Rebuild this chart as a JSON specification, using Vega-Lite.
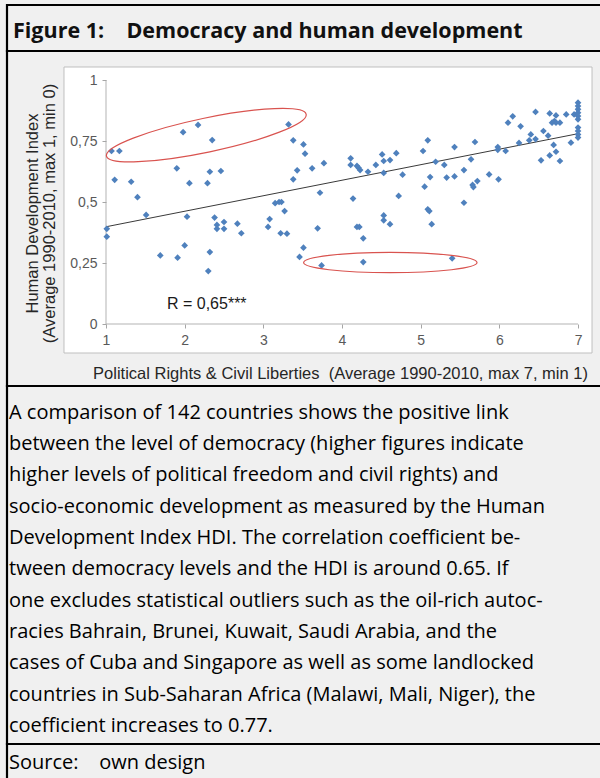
{
  "$schema": "https://vega.github.io/schema/vega-lite/v6.json",
  "background": "#f0f0f0",
  "padding": {"left": 5, "top": 3, "right": 0, "bottom": 0},
  "spacing": 0,
  "bounds": "flush",
  "config": {
    "view": {"stroke": "#000000", "strokeWidth": 2.2, "fill": null},
    "font": "Open Sans"
  },
  "datasets": {
    "countries": [{"pr":1.07,"hdi":0.709},{"pr":1.17,"hdi":0.709},{"pr":1.01,"hdi":0.39},{"pr":1.01,"hdi":0.358},{"pr":1.11,"hdi":0.591},{"pr":1.32,"hdi":0.583},{"pr":1.40,"hdi":0.52},{"pr":1.51,"hdi":0.447},{"pr":1.69,"hdi":0.281},{"pr":1.90,"hdi":0.638},{"pr":1.91,"hdi":0.272},{"pr":1.98,"hdi":0.786},{"pr":2.00,"hdi":0.322},{"pr":2.03,"hdi":0.44},{"pr":2.06,"hdi":0.577},{"pr":2.17,"hdi":0.816},{"pr":2.29,"hdi":0.577},{"pr":2.32,"hdi":0.624},{"pr":2.35,"hdi":0.754},{"pr":2.32,"hdi":0.295},{"pr":2.30,"hdi":0.217},{"pr":2.38,"hdi":0.436},{"pr":2.41,"hdi":0.406},{"pr":2.41,"hdi":0.39},{"pr":2.46,"hdi":0.627},{"pr":2.50,"hdi":0.418},{"pr":2.50,"hdi":0.39},{"pr":2.67,"hdi":0.411},{"pr":2.72,"hdi":0.372},{"pr":3.32,"hdi":0.818},{"pr":3.38,"hdi":0.753},{"pr":3.51,"hdi":0.736},{"pr":3.53,"hdi":0.698},{"pr":3.43,"hdi":0.63},{"pr":3.38,"hdi":0.593},{"pr":3.62,"hdi":0.638},{"pr":3.77,"hdi":0.659},{"pr":3.72,"hdi":0.538},{"pr":3.15,"hdi":0.495},{"pr":3.2,"hdi":0.5},{"pr":3.23,"hdi":0.5},{"pr":3.27,"hdi":0.463},{"pr":3.08,"hdi":0.43},{"pr":3.06,"hdi":0.398},{"pr":3.22,"hdi":0.372},{"pr":3.3,"hdi":0.37},{"pr":3.69,"hdi":0.392},{"pr":3.51,"hdi":0.313},{"pr":3.46,"hdi":0.275},{"pr":3.74,"hdi":0.24},
      {"pr":4.11,"hdi":0.679},{"pr":4.11,"hdi":0.652},{"pr":4.19,"hdi":0.648},{"pr":4.21,"hdi":0.64},{"pr":4.23,"hdi":0.631},{"pr":4.33,"hdi":0.624},{"pr":4.43,"hdi":0.652},{"pr":4.51,"hdi":0.695},{"pr":4.53,"hdi":0.668},{"pr":4.61,"hdi":0.672},{"pr":4.69,"hdi":0.7},{"pr":4.53,"hdi":0.619},{"pr":4.77,"hdi":0.612},{"pr":4.72,"hdi":0.525},{"pr":4.14,"hdi":0.514},{"pr":4.19,"hdi":0.398},{"pr":4.22,"hdi":0.398},{"pr":4.27,"hdi":0.351},{"pr":4.27,"hdi":0.254},{"pr":4.53,"hdi":0.445},{"pr":4.53,"hdi":0.425},{"pr":4.61,"hdi":0.409},{"pr":5.03,"hdi":0.709},{"pr":5.09,"hdi":0.753},{"pr":5.19,"hdi":0.665},{"pr":5.3,"hdi":0.652},{"pr":5.43,"hdi":0.725},{"pr":5.12,"hdi":0.602},{"pr":5.33,"hdi":0.6},{"pr":5.43,"hdi":0.605},{"pr":5.05,"hdi":0.563},{"pr":5.09,"hdi":0.47},{"pr":5.11,"hdi":0.463},{"pr":5.14,"hdi":0.409},{"pr":5.4,"hdi":0.269},{"pr":5.55,"hdi":0.631},{"pr":5.55,"hdi":0.497},
      {"pr":5.64,"hdi":0.675},{"pr":5.69,"hdi":0.746},{"pr":5.66,"hdi":0.57},{"pr":5.67,"hdi":0.561},{"pr":5.72,"hdi":0.586},{"pr":5.87,"hdi":0.613},{"pr":5.99,"hdi":0.593},{"pr":5.98,"hdi":0.725},{"pr":5.98,"hdi":0.714},{"pr":6.08,"hdi":0.709},{"pr":6.11,"hdi":0.825},{"pr":6.17,"hdi":0.851},{"pr":6.27,"hdi":0.81},{"pr":6.25,"hdi":0.742},{"pr":6.38,"hdi":0.753},{"pr":6.4,"hdi":0.777},{"pr":6.46,"hdi":0.758},{"pr":6.46,"hdi":0.869},{"pr":6.56,"hdi":0.791},{"pr":6.62,"hdi":0.772},{"pr":6.53,"hdi":0.671},{"pr":6.64,"hdi":0.863},{"pr":6.64,"hdi":0.691},{"pr":6.69,"hdi":0.734},{"pr":6.72,"hdi":0.706},{"pr":6.77,"hdi":0.668},{"pr":6.72,"hdi":0.855},{"pr":6.67,"hdi":0.825},{"pr":6.7,"hdi":0.832},{"pr":6.72,"hdi":0.825},{"pr":6.77,"hdi":0.825},{"pr":6.85,"hdi":0.859},{"pr":6.91,"hdi":0.743},{"pr":6.95,"hdi":0.859},{"pr":7,"hdi":0.907},{"pr":7,"hdi":0.893},{"pr":7,"hdi":0.88},{"pr":7,"hdi":0.866},{"pr":7,"hdi":0.852},{"pr":7,"hdi":0.839},{"pr":7,"hdi":0.805},{"pr":7,"hdi":0.791},{"pr":7,"hdi":0.777},{"pr":7,"hdi":0.764}],
    "trend": [{"pr": 1, "hdi": 0.3985}, {"pr": 7, "hdi": 0.78}],
    "paragraph": [
      {"line": 0, "text": "A comparison of 142 countries shows the positive link"},
      {"line": 1, "text": "between the level of democracy (higher figures indicate"},
      {"line": 2, "text": "higher levels of political freedom and civil rights) and"},
      {"line": 3, "text": "socio-economic development as measured by the Human"},
      {"line": 4, "text": "Development Index HDI. The correlation coefficient be-"},
      {"line": 5, "text": "tween democracy levels and the HDI is around 0.65. If"},
      {"line": 6, "text": "one excludes statistical outliers such as the oil-rich autoc-"},
      {"line": 7, "text": "racies Bahrain, Brunei, Kuwait, Saudi Arabia, and the"},
      {"line": 8, "text": "cases of Cuba and Singapore as well as some landlocked"},
      {"line": 9, "text": "countries in Sub-Saharan Africa (Malawi, Mali, Niger), the"},
      {"line": 10, "text": "coefficient increases to 0.77."}
    ]
  },
  "vconcat": [
    {
      "width": 596,
      "height": 46,
      "data": {"values": [{"label": "Figure 1:\u00a0\u00a0\u00a0\u00a0Democracy and human development"}]},
      "mark": {"type": "text", "align": "left", "baseline": "alphabetic", "font": "Open Sans", "fontSize": 21.5, "fontWeight": "bold", "color": "#111111", "dx": 6},
      "encoding": {
        "x": {"datum": 0, "type": "quantitative", "scale": {"domain": [0, 1]}, "axis": null},
        "y": {"datum": 0.28, "type": "quantitative", "scale": {"domain": [0, 1]}, "axis": null},
        "text": {"field": "label"}
      }
    },
    {
      "width": 596,
      "height": 335,
      "layer": [
        {
          "data": {"values": [{"part": "chart area"}]},
          "mark": {"type": "rect", "fill": "#ffffff", "stroke": "#bfbfbf", "strokeWidth": 1},
          "encoding": {
            "x": {"datum": 0.466, "type": "quantitative"},
            "x2": {"datum": 7.178},
            "y": {"datum": 1.0533, "type": "quantitative"},
            "y2": {"datum": -0.1189}
          }
        },
        {
          "data": {"values": [{"part": "x axis line"}]},
          "mark": {"type": "rule", "color": "#b3b3b3", "strokeWidth": 1},
          "encoding": {
            "x": {"datum": 1, "type": "quantitative"},
            "x2": {"datum": 7},
            "y": {"datum": 0, "type": "quantitative"}
          }
        },
        {
          "data": {"values": [{"part": "y axis line"}]},
          "mark": {"type": "rule", "color": "#b3b3b3", "strokeWidth": 1},
          "encoding": {
            "x": {"datum": 1, "type": "quantitative"},
            "y": {"datum": 0, "type": "quantitative"},
            "y2": {"datum": 1}
          }
        },
        {
          "data": {"name": "trend"},
          "mark": {"type": "line", "color": "#3a3a3a", "strokeWidth": 1},
          "encoding": {
            "x": {"field": "pr", "type": "quantitative"},
            "y": {"field": "hdi", "type": "quantitative"}
          }
        },
        {
          "data": {"name": "countries"},
          "mark": {"type": "point", "shape": "diamond", "filled": true, "size": 45, "color": "#4f81bd", "opacity": 1},
          "encoding": {
            "x": {
              "field": "pr", "type": "quantitative",
              "scale": {"domain": [-0.2585, 7.3175], "nice": false, "zero": false},
              "axis": {
                "values": [1, 2, 3, 4, 5, 6, 7], "format": "d",
                "domain": false, "grid": false, "offset": -62, "zindex": 1,
                "tickSize": 4, "tickColor": "#a6a6a6", "tickWidth": 1,
                "labelFont": "Liberation Sans", "labelFontSize": 14, "labelColor": "#595959", "labelPadding": 5,
                "title": "Political Rights & Civil Liberties\u00a0 (Average 1990-2010, max 7, min 1)",
                "titleFont": "Liberation Sans", "titleFontSize": 16.5, "titleFontWeight": "normal", "titleColor": "#262626",
                "titleX": 333, "titleY": 49, "titleAlign": "center", "titleBaseline": "middle"
              }
            },
            "y": {
              "field": "hdi", "type": "quantitative",
              "scale": {"domain": [-0.2541, 1.1189], "nice": false, "zero": false},
              "axis": {
                "values": [0, 0.25, 0.5, 0.75, 1], "format": ".2~f",
                "labelExpr": "replace(datum.label, '.', ',')",
                "domain": false, "grid": false, "offset": -99, "zindex": 1,
                "tickSize": 4, "tickColor": "#a6a6a6", "tickWidth": 1,
                "labelFont": "Liberation Sans", "labelFontSize": 14, "labelColor": "#595959", "labelPadding": 5,
                "title": ["Human Development Index", "(Average 1990-2010, max 1, min 0)"],
                "titleFont": "Liberation Sans", "titleFontSize": 16.5, "titleFontWeight": "normal", "titleColor": "#262626",
                "titleLineHeight": 17, "titleAngle": -90,
                "titleX": -74, "titleY": 162, "titleAlign": "center", "titleBaseline": "middle"
              }
            }
          }
        },
        {
          "data": {"values": [{"group": "upper outliers"}]},
          "mark": {"type": "point", "shape": "M-1 0C-1 -0.0921 -0.5523 -0.1667 0 -0.1667C0.5523 -0.1667 1 -0.0921 1 0C1 0.0921 0.5523 0.1667 0 0.1667C-0.5523 0.1667 -1 0.0921 -1 0Z", "filled": false, "size": 41616, "angle": 348.2, "color": "#d9534f", "strokeWidth": 1.2, "opacity": 1},
          "encoding": {
            "x": {"datum": 2.275, "type": "quantitative"},
            "y": {"datum": 0.774, "type": "quantitative"}
          }
        },
        {
          "data": {"values": [{"group": "lower outliers"}]},
          "mark": {"type": "point", "shape": "M-1 0C-1 -0.065 -0.5523 -0.1176 0 -0.1176C0.5523 -0.1176 1 -0.065 1 0C1 0.065 0.5523 0.1176 0 0.1176C-0.5523 0.1176 -1 0.065 -1 0Z", "filled": false, "size": 30068, "angle": 0, "color": "#d9534f", "strokeWidth": 1.2, "opacity": 1},
          "encoding": {
            "x": {"datum": 4.614, "type": "quantitative"},
            "y": {"datum": 0.252, "type": "quantitative"}
          }
        },
        {
          "data": {"values": [{"label": "R = 0,65***"}]},
          "mark": {"type": "text", "align": "left", "baseline": "alphabetic", "font": "Liberation Sans", "fontSize": 16, "color": "#1a1a1a"},
          "encoding": {
            "x": {"datum": 1.775, "type": "quantitative"},
            "y": {"datum": 0.0615, "type": "quantitative"},
            "text": {"field": "label"}
          }
        }
      ]
    },
    {
      "width": 596,
      "height": 358,
      "data": {"name": "paragraph"},
      "mark": {"type": "text", "align": "left", "baseline": "alphabetic", "font": "Open Sans", "fontSize": 20, "color": "#000000", "dx": 2},
      "encoding": {
        "x": {"datum": 0, "type": "quantitative", "scale": {"domain": [0, 1]}, "axis": null},
        "y": {"field": "line", "type": "quantitative", "scale": {"domain": [-1.051, 10.387], "reverse": true, "nice": false, "zero": false}, "axis": null},
        "text": {"field": "text"}
      }
    },
    {
      "width": 596,
      "height": 36,
      "data": {"values": [{"label": "Source:\u00a0\u00a0\u00a0\u00a0own design"}]},
      "mark": {"type": "text", "align": "left", "baseline": "alphabetic", "font": "Open Sans", "fontSize": 20, "color": "#000000", "dx": 2},
      "encoding": {
        "x": {"datum": 0, "type": "quantitative", "scale": {"domain": [0, 1]}, "axis": null},
        "y": {"datum": 0.314, "type": "quantitative", "scale": {"domain": [0, 1]}, "axis": null},
        "text": {"field": "label"}
      }
    }
  ]
}
